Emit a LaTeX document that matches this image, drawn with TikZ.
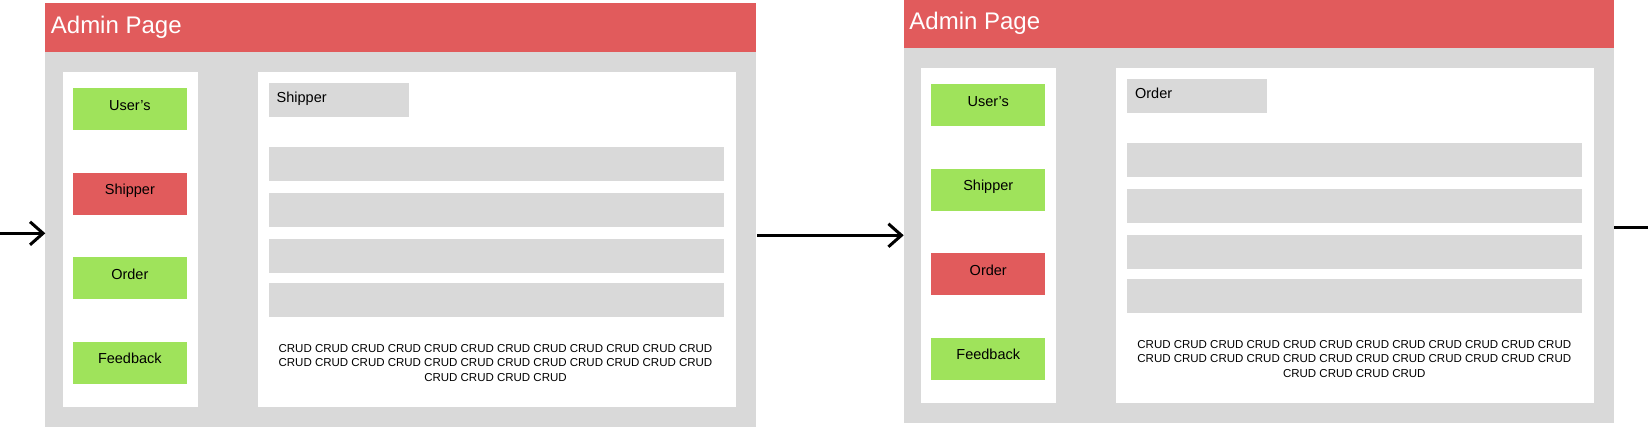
\documentclass[tikz,border=0pt]{standalone}
\usepackage{fontspec}
\setmainfont{Liberation Sans}
\usetikzlibrary{arrows.meta}

\definecolor{adminred}{HTML}{E15B5C}
\definecolor{menugreen}{HTML}{9FE35B}
\definecolor{panelgray}{HTML}{D9D9D9}

\begin{document}
\begin{tikzpicture}[x=1pt, y=-1pt,
  box/.style={anchor=north west, inner sep=0pt, outer sep=0pt},
  pagebody/.style={box, fill=panelgray, minimum width=710.4pt, minimum height=424.3pt},
  headbar/.style={box, fill=adminred, minimum width=710.4pt, minimum height=49pt},
  headtext/.style={anchor=base west, inner sep=0pt, text=white, font=\fontsize{24}{28}\selectfont},
  pane/.style={box, fill=white, minimum height=334.7pt},
  menubtn/.style={box, minimum width=113.7pt, minimum height=42pt, text height=10.5pt, text depth=8.1pt, font=\fontsize{14.5}{17}\selectfont},
  tabbox/.style={box, fill=panelgray, minimum height=33.7pt, inner xsep=7.7pt, text width=124.6pt, align=left, text height=10.5pt, text depth=4.7pt, font=\fontsize{14.5}{17}\selectfont},
  rowbar/.style={box, fill=panelgray, minimum width=455pt, minimum height=33.7pt},
  crudtext/.style={anchor=north, inner sep=0pt, align=center, font=\fontsize{11.5}{14.2}\selectfont},
  flow/.style={line width=3pt, -{Straight Barb[length=13pt, width=23pt]}}
]
  \useasboundingbox (0,0) rectangle (1648,442);

  % First page - Shipper selected
  \node[pagebody] (page1) at (45.3,2.7) {};
  \node[headbar] (head1) at (45.3,2.7) {};
  \node[headtext] (title1) at (50.7,33.3) {Admin Page};
  \node[pane, minimum width=135pt] (side1) at (63,72) {};
  \node[menubtn, fill=menugreen] (users1) at (73,88.3) {User’s};
  \node[menubtn, fill=adminred] (shipper1) at (73,172.7) {Shipper};
  \node[menubtn, fill=menugreen] (order1) at (73,257.3) {Order};
  \node[menubtn, fill=menugreen] (feedback1) at (73,341.7) {Feedback};
  \node[pane, minimum width=478pt] (main1) at (257.7,72) {};
  \node[tabbox] (tab1) at (269,83) {Shipper};
  \node[rowbar] (row1a) at (269,147) {};
  \node[rowbar] (row1b) at (269,193) {};
  \node[rowbar] (row1c) at (269,239.3) {};
  \node[rowbar] (row1d) at (269,283) {};
  \node[crudtext] (crud1) at (495.5,344.5) {CRUD CRUD CRUD CRUD CRUD CRUD CRUD CRUD CRUD CRUD CRUD CRUD\\
    CRUD CRUD CRUD CRUD CRUD CRUD CRUD CRUD CRUD CRUD CRUD CRUD\\
    CRUD CRUD CRUD CRUD};

  % Second page - Order selected
  \node[pagebody] (page2) at (903.7,-1.3) {};
  \node[headbar] (head2) at (903.7,-1.3) {};
  \node[headtext] (title2) at (909.2,29.3) {Admin Page};
  \node[pane, minimum width=135pt] (side2) at (921.4,68) {};
  \node[menubtn, fill=menugreen] (users2) at (931.4,84.3) {User’s};
  \node[menubtn, fill=menugreen] (shipper2) at (931.4,168.7) {Shipper};
  \node[menubtn, fill=adminred] (order2) at (931.4,253.3) {Order};
  \node[menubtn, fill=menugreen] (feedback2) at (931.4,337.7) {Feedback};
  \node[pane, minimum width=478pt] (main2) at (1116.1,68) {};
  \node[tabbox] (tab2) at (1127.4,79) {Order};
  \node[rowbar] (row2a) at (1127.4,143) {};
  \node[rowbar] (row2b) at (1127.4,189) {};
  \node[rowbar] (row2c) at (1127.4,235.3) {};
  \node[rowbar] (row2d) at (1127.4,279) {};
  \node[crudtext] (crud2) at (1354.3,340.5) {CRUD CRUD CRUD CRUD CRUD CRUD CRUD CRUD CRUD CRUD CRUD CRUD\\
    CRUD CRUD CRUD CRUD CRUD CRUD CRUD CRUD CRUD CRUD CRUD CRUD\\
    CRUD CRUD CRUD CRUD};

  % Arrows between pages
  \coordinate (enter) at (0,233.3);
  \coordinate (gap) at (757.3,235.3);
  \coordinate (exit) at (1650,227.3);
  \draw[flow] (enter) -- (page1.west |- enter);
  \draw[flow] (gap) -- (page2.west |- gap);
  \draw[line width=3pt] (page2.east |- exit) -- (exit);
\end{tikzpicture}
\end{document}
